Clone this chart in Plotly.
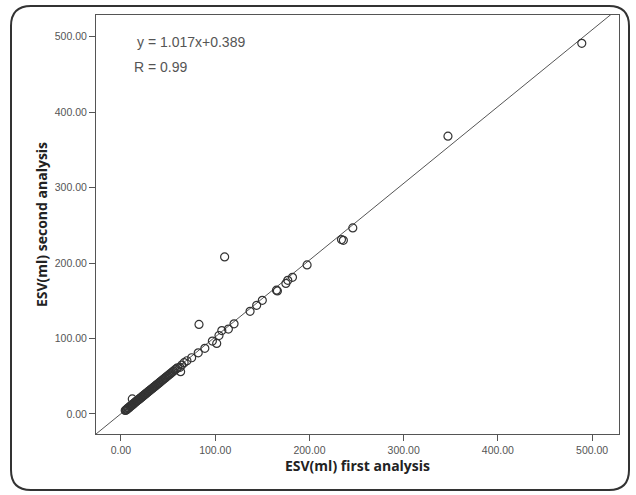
import plotly.graph_objects as go

# ---- data ----
esv_first = [4.5, 5.2, 5.8, 6.3, 7.0, 7.6, 8.4, 9.1, 9.8, 10.5, 11.3, 12.0, 12.8, 13.5, 14.2,
             15.0, 15.7, 16.5, 17.2, 18.0, 18.8, 19.5, 20.3, 21.0, 21.8, 22.5, 23.3, 24.0,
             24.8, 25.6, 26.4, 27.1, 28.0, 28.8, 29.6, 30.4, 31.2, 32.0, 32.9, 33.7, 34.5,
             35.4, 36.2, 37.1, 38.0, 38.9, 39.8, 40.7, 41.6, 42.5, 43.5, 44.4, 45.4, 46.5,
             47.5, 48.6, 49.7, 50.9, 52.0, 53.2, 54.5, 55.8, 57.2, 58.6, 60.0,
             12.0, 63.3, 62.6, 64.5, 67.0, 70.0, 75.0, 82.0, 89.0, 97.0, 101.6, 104.0, 107.0,
             114.0, 120.0, 137.0, 144.0, 150.0, 165.0, 166.0, 175.0, 177.0, 182.0, 197.5,
             234.0, 236.0, 246.0, 347.0, 489.0, 110.0, 82.8]
esv_second = [4.6, 5.0, 6.1, 6.0, 7.3, 7.9, 8.1, 9.5, 10.2, 10.1, 11.8, 12.3, 12.5, 14.0, 14.6,
              15.2, 16.3, 16.8, 17.9, 18.2, 19.3, 19.9, 20.6, 21.5, 22.3, 22.9, 23.7, 24.6,
              25.2, 26.1, 26.9, 27.8, 28.4, 29.5, 30.1, 31.0, 31.8, 32.7, 33.4, 34.4, 35.2,
              36.0, 36.9, 37.8, 38.6, 39.7, 40.5, 41.5, 42.3, 43.3, 44.2, 45.3, 46.2, 47.4,
              48.3, 49.5, 50.6, 51.9, 53.0, 54.2, 55.6, 56.8, 58.4, 59.7, 61.2,
              20.0, 56.0, 61.8, 64.8, 68.0, 70.5, 74.5, 81.0, 87.0, 96.6, 93.5, 104.0, 110.5,
              112.5, 119.5, 136.0, 144.0, 150.5, 164.0, 163.0, 173.0, 177.0, 181.0, 197.5,
              231.0, 230.0, 246.5, 368.0, 491.0, 208.0, 118.6]

fit_slope = 1.017
fit_intercept = 0.389
fit_x = [-30.0, 540.0]
fit_y = [fit_slope * v + fit_intercept for v in fit_x]

tick_vals = [0, 100, 200, 300, 400, 500]
tick_text = ["0.00", "100.00", "200.00", "300.00", "400.00", "500.00"]
x_title = "ESV(ml) first analysis"
y_title = "ESV(ml) second analysis"
eq_text = "y = 1.017x+0.389"
r_text = "R = 0.99"

axis_range = [-26.5, 528.5]

fig = go.Figure()
fig.add_trace(go.Scatter(x=fit_x, y=fit_y, mode="lines",
                         line=dict(color="#555555", width=1), hoverinfo="skip",
                         showlegend=False))
fig.add_trace(go.Scatter(x=esv_first, y=esv_second, mode="markers",
                         marker=dict(symbol="circle-open", size=8,
                                     line=dict(color="#333333", width=1.2),
                                     color="#333333"),
                         showlegend=False))

W, H = 636, 495
L, R, T, B = 96, 17, 15, 61
pw, ph = W - L - R, H - T - B


def px(xp):
    return (xp - L) / pw


def py(yp):
    return (H - B - yp) / ph


# rounded outer frame
x0, x1, y0, y1, rad = 11, 629, 6, 490, 20
path = (f"M {px(x0 + rad)},{py(y0)} L {px(x1 - rad)},{py(y0)} "
        f"Q {px(x1)},{py(y0)} {px(x1)},{py(y0 + rad)} "
        f"L {px(x1)},{py(y1 - rad)} Q {px(x1)},{py(y1)} {px(x1 - rad)},{py(y1)} "
        f"L {px(x0 + rad)},{py(y1)} Q {px(x0)},{py(y1)} {px(x0)},{py(y1 - rad)} "
        f"L {px(x0)},{py(y0 + rad)} Q {px(x0)},{py(y0)} {px(x0 + rad)},{py(y0)} Z")
fig.add_shape(type="path", path=path, xref="paper", yref="paper",
              line=dict(color="#333333", width=2))

tick_font = dict(family="Liberation Sans, Arial, sans-serif", size=10.5, color="#555555")
title_font = dict(family="Open Sans, Liberation Sans, sans-serif", size=14, color="#222222")
note_font = dict(family="Liberation Sans, Arial, sans-serif", size=14, color="#555555")

common = dict(range=axis_range, tickvals=tick_vals, ticktext=tick_text,
              showgrid=False, zeroline=False, showline=True, mirror=True,
              linecolor="#555555", linewidth=1, ticks="outside", ticklen=6,
              tickcolor="#555555", tickfont=tick_font, automargin=False)

fig.update_layout(
    width=W, height=H,
    margin=dict(l=L, r=R, t=T, b=B),
    paper_bgcolor="white", plot_bgcolor="white",
    xaxis=dict(title=dict(text=f"<b>{x_title}</b>", font=title_font, standoff=5), **common),
    yaxis=dict(title=dict(text=f"<b>{y_title}</b>", font=title_font, standoff=3), **common),
    annotations=[
        dict(x=px(135), y=py(42), xref="paper", yref="paper", text=eq_text,
             showarrow=False, xanchor="left", yanchor="middle", font=note_font),
        dict(x=px(132), y=py(67), xref="paper", yref="paper", text=r_text,
             showarrow=False, xanchor="left", yanchor="middle", font=note_font),
    ],
)

fig.write_html("out.html", config={"displayModeBar": False},
               post_script="document.body.style.margin='0px';")
